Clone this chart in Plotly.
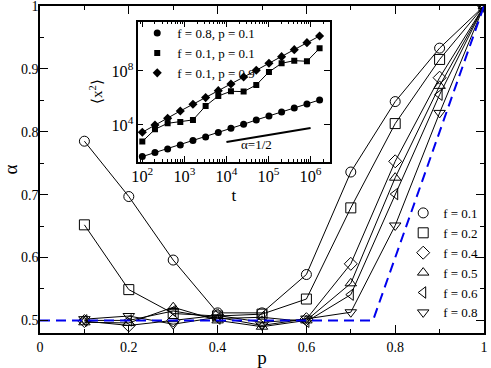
import plotly.graph_objects as go

# ---------------- main panel data ----------------
p_vals = [0.1, 0.2, 0.3, 0.4, 0.5, 0.6, 0.7, 0.8, 0.9, 1.0]
alpha_f01 = [0.785, 0.697, 0.596, 0.512, 0.512, 0.573, 0.736, 0.848, 0.933, 1.0]
alpha_f02 = [0.652, 0.549, 0.511, 0.507, 0.510, 0.534, 0.679, 0.813, 0.915, 1.0]
alpha_f04 = [0.499, 0.492, 0.500, 0.508, 0.497, 0.502, 0.590, 0.753, 0.886, 1.0]
alpha_f05 = [0.497, 0.496, 0.521, 0.500, 0.490, 0.500, 0.559, 0.727, 0.873, 1.0]
alpha_f06 = [0.500, 0.500, 0.515, 0.503, 0.505, 0.498, 0.541, 0.701, 0.859, 1.0]
alpha_f08 = [0.502, 0.507, 0.494, 0.505, 0.492, 0.503, 0.513, 0.651, 0.830, 1.0]
series_names = ["f = 0.1", "f = 0.2", "f = 0.4", "f = 0.5", "f = 0.6", "f = 0.8"]
series_symbols = ["circle-open", "square-open", "diamond-open",
                  "triangle-up-open", "triangle-left-open", "triangle-down-open"]

theory_p = [0.0, 0.75, 1.0]
theory_alpha = [0.5, 0.5, 1.0]

# ---------------- inset data ----------------
t_vals = [100 * 2 ** k for k in range(15)]
log_x2_a = [1.654, 1.951, 2.222, 2.519, 2.840, 3.111, 3.432, 3.753, 4.049,
            4.370, 4.667, 4.963, 5.259, 5.556, 5.852]   # f=0.8, p=0.1
log_x2_b = [2.765, 3.679, 4.123, 4.222, 4.370, 5.407, 6.148, 6.494, 6.469,
            6.963, 7.926, 8.568, 8.765, 8.716, 9.679]   # f=0.1, p=0.1
log_x2_c = [3.457, 4.000, 4.494, 5.037, 5.531, 6.025, 6.543, 7.037, 7.556,
            8.049, 8.568, 9.062, 9.580, 10.099, 10.593]  # f=0.1, p=0.9
inset_names = ["f = 0.8, p = 0.1", "f = 0.1, p = 0.1", "f = 0.1, p = 0.9"]
inset_symbols = ["circle", "square", "diamond"]
guide_t = [1e4, 1e6]
guide_log_y = [2.74, 3.78]

FONT = "Liberation Serif"

fig = go.Figure()

main_series = [alpha_f01, alpha_f02, alpha_f04, alpha_f05, alpha_f06, alpha_f08]
for ys in main_series:
    fig.add_trace(go.Scatter(x=p_vals, y=ys, mode="lines",
                             line=dict(color="black", width=1),
                             showlegend=False, hoverinfo="skip"))
for ys, name, sym in zip(main_series, series_names, series_symbols):
    fig.add_trace(go.Scatter(x=p_vals, y=ys, mode="markers", name=name,
                             marker=dict(symbol=sym, size=10, color="black",
                                         line=dict(width=1, color="black")),
                             legend="legend"))

fig.add_trace(go.Scatter(x=theory_p, y=theory_alpha, mode="lines",
                         line=dict(color="#0000ee", width=2, dash="10px,6px"),
                         showlegend=False, hoverinfo="skip"))

# inset
inset_series = [log_x2_a, log_x2_b, log_x2_c]
inset_sizes = [7, 6, 7]
for ys in inset_series:
    fig.add_trace(go.Scatter(x=t_vals, y=[10 ** v for v in ys], mode="lines",
                             line=dict(color="black", width=1),
                             xaxis="x2", yaxis="y2",
                             showlegend=False, hoverinfo="skip"))
for ys, name, sym, sz in zip(inset_series, inset_names, inset_symbols, inset_sizes):
    fig.add_trace(go.Scatter(x=t_vals, y=[10 ** v for v in ys], mode="markers",
                             name=name, xaxis="x2", yaxis="y2",
                             marker=dict(symbol=sym, size=sz, color="black"),
                             legend="legend2"))
fig.add_trace(go.Scatter(x=guide_t, y=[10 ** v for v in guide_log_y], mode="lines",
                         line=dict(color="black", width=2),
                         xaxis="x2", yaxis="y2", showlegend=False, hoverinfo="skip"))

axis_common = dict(showline=True, linecolor="black", linewidth=1.5, mirror="ticks",
                   ticks="inside", tickcolor="black", showgrid=False, zeroline=False,
                   automargin=False, ticklabeloverflow="allow")

fig.update_layout(
    width=491, height=368,
    margin=dict(l=40, r=7, t=6, b=35),
    paper_bgcolor="white", plot_bgcolor="white",
    font=dict(family=FONT, color="black", size=14),
    xaxis=dict(domain=[0, 1], range=[0, 1], dtick=0.2, tick0=0, ticklen=8,
               minor=dict(dtick=0.1, ticks="inside", ticklen=4, tickcolor="black"),
               title=dict(text="p", font=dict(size=19), standoff=0),
               tickfont=dict(size=14), **axis_common),
    yaxis=dict(domain=[0, 1], range=[0.48, 1], dtick=0.1, tick0=0, ticklen=8,
               minor=dict(dtick=0.05, ticks="inside", ticklen=4, tickcolor="black"),
               title=dict(text="α", font=dict(size=19), standoff=4),
               ticklabelstandoff=-3,
               tickfont=dict(size=14), **axis_common),
    xaxis2=dict(type="log", domain=[0.220, 0.653], anchor="y2", range=[1.89, 6.46],
                dtick=1, exponentformat="power", ticklen=6,
                minor=dict(ticks="inside", ticklen=3, tickcolor="black"),
                title=dict(text="t", font=dict(size=17), standoff=0),
                tickfont=dict(size=13), **axis_common),
    yaxis2=dict(type="log", domain=[0.524, 0.952], anchor="x2", range=[1.28, 11.65],
                dtick=4, tick0=0, exponentformat="power", ticklen=6,
                title=dict(text="⟨x<sup>2</sup>⟩", font=dict(size=15), standoff=5),
                tickfont=dict(size=13), **axis_common),
    legend=dict(x=0.818, y=0.413, xanchor="left", yanchor="top",
                bgcolor="rgba(0,0,0,0)", itemwidth=30,
                font=dict(size=13, family=FONT), tracegroupgap=0),
    legend2=dict(x=0.219, y=0.963, xanchor="left", yanchor="top",
                 bgcolor="rgba(0,0,0,0)", itemwidth=30,
                 font=dict(size=13, family=FONT), tracegroupgap=0),
    annotations=[dict(text="α=1/2", x=4.72, y=2.52, xref="x2", yref="y2",
                      showarrow=False, font=dict(size=13, family=FONT))],
)

fig.write_html("out.html", config={"displayModeBar": False},
               post_script="document.body.style.margin='0';")
